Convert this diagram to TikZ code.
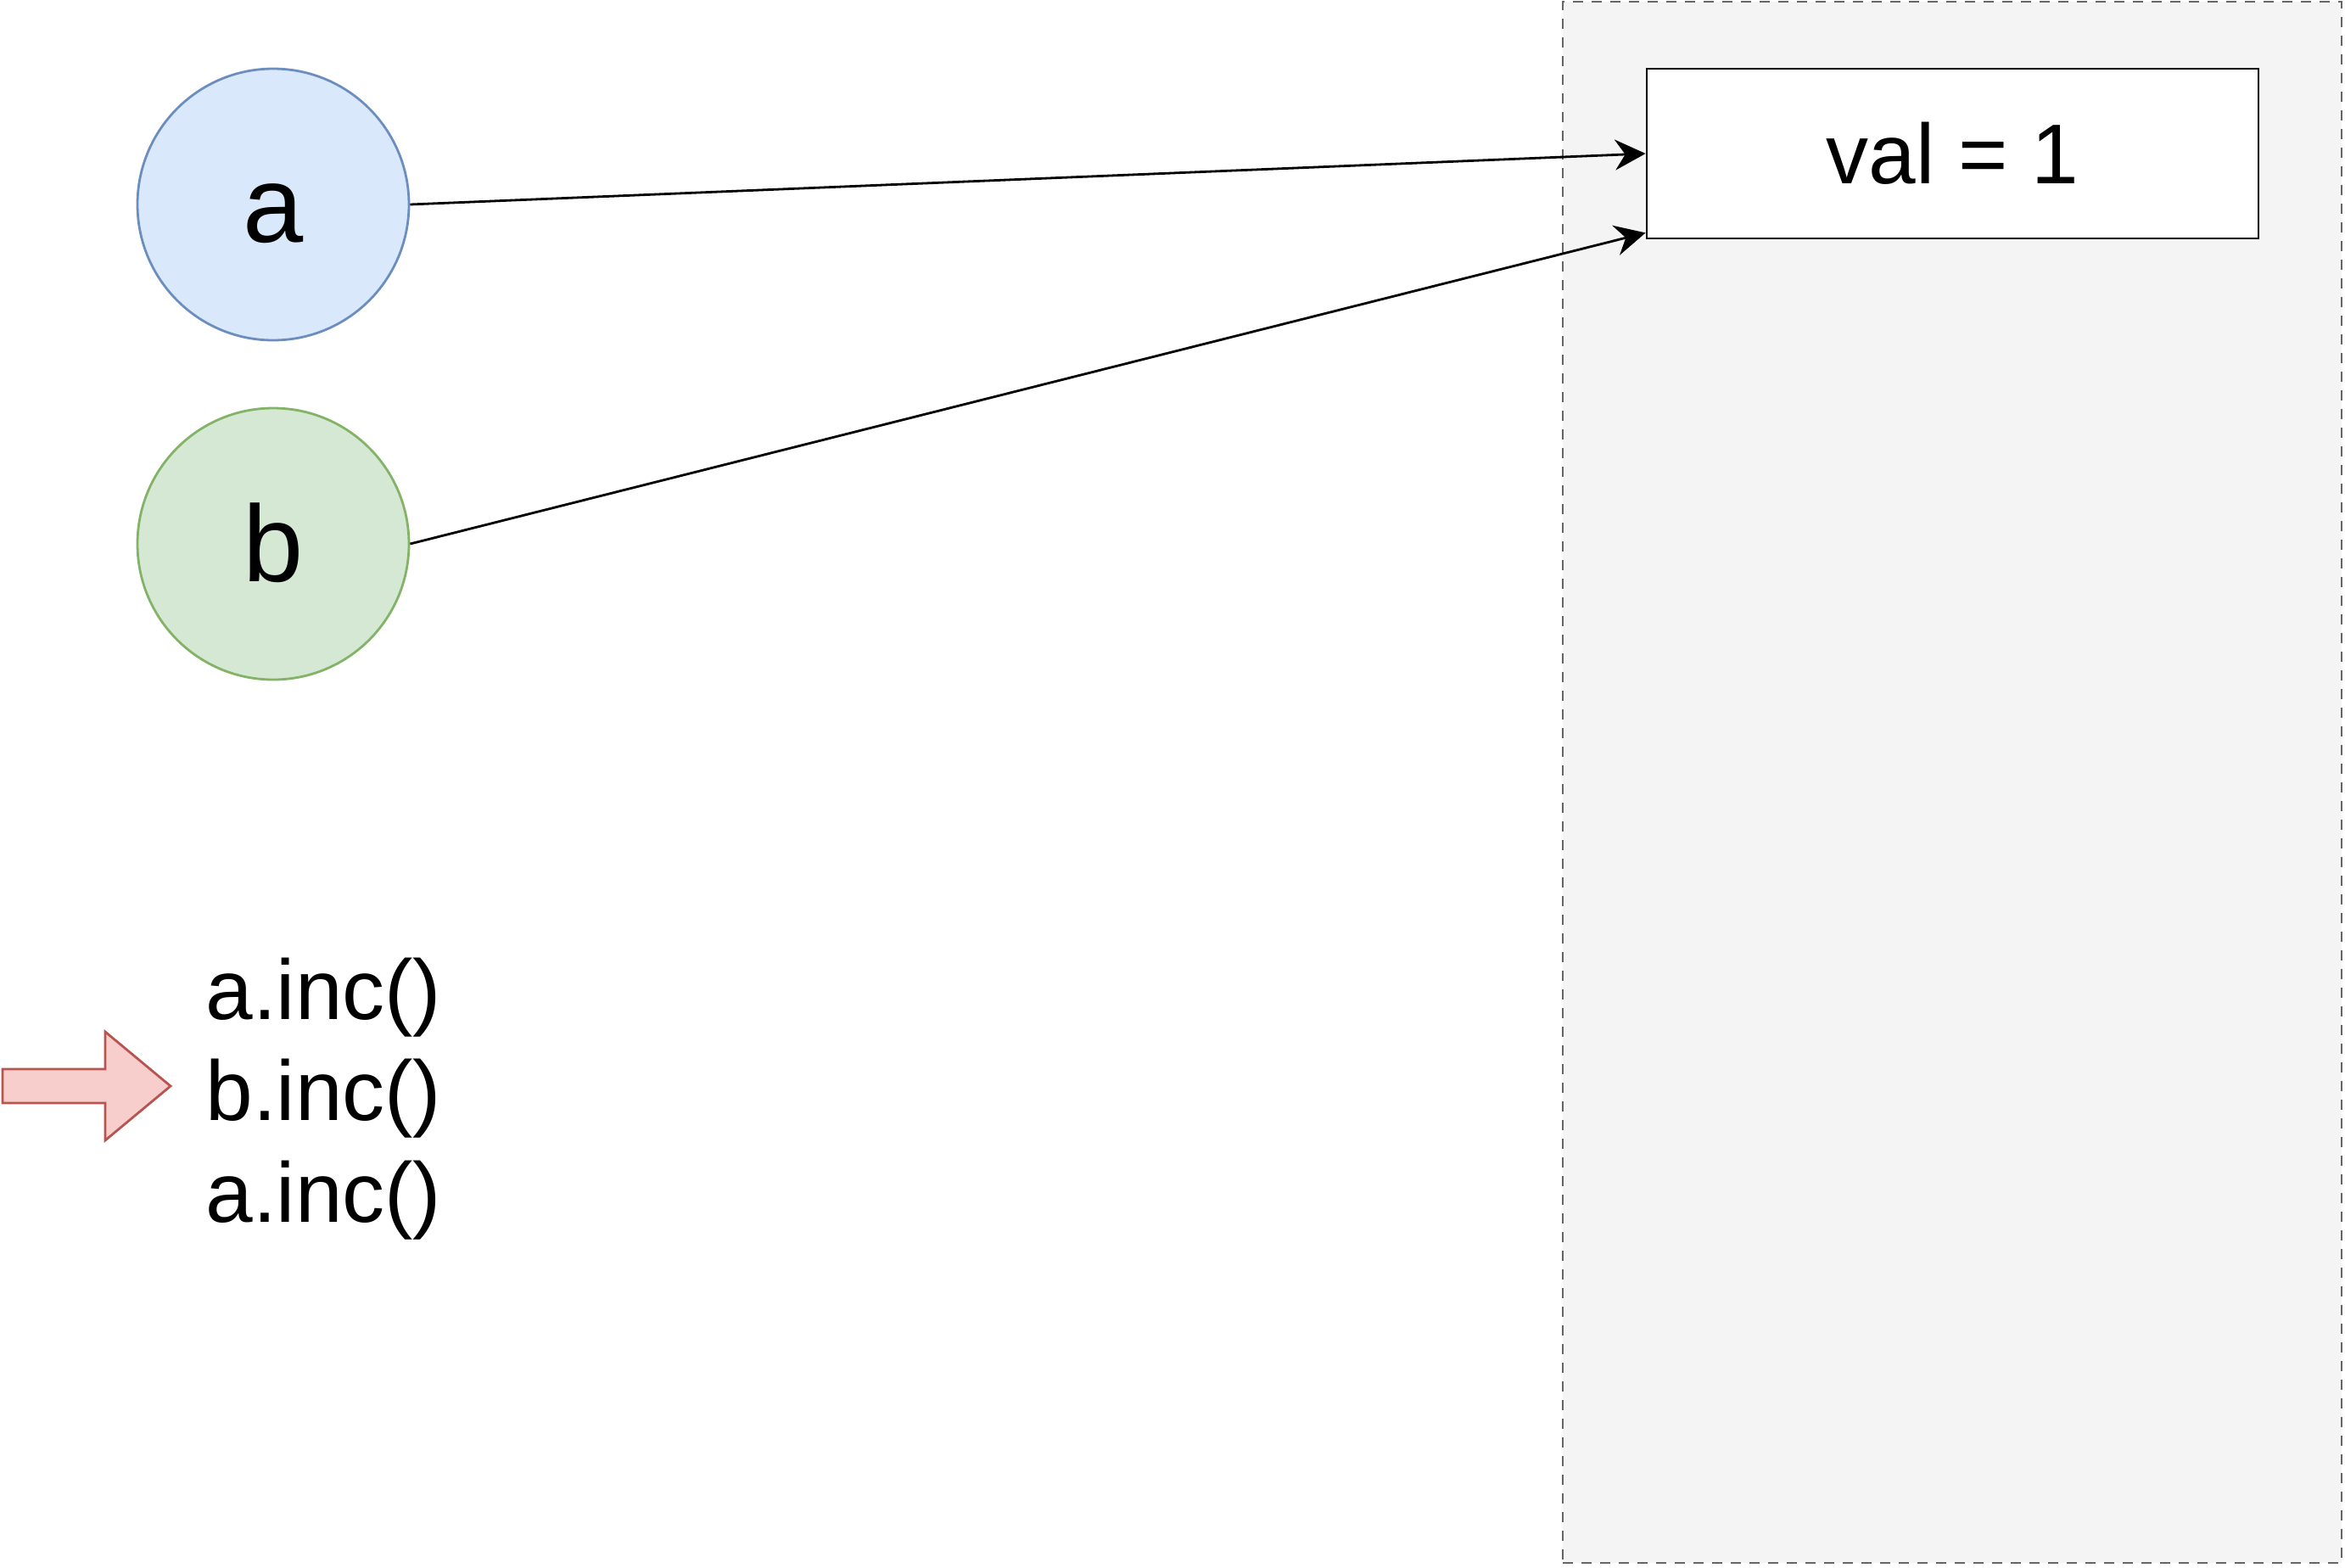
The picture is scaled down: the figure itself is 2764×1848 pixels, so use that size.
\documentclass[tikz,border=0pt]{standalone}
\usepackage{fontspec}
\setmainfont{Liberation Sans}
\usetikzlibrary{arrows.meta}

\definecolor{afill}{HTML}{DAE8FC}
\definecolor{aline}{HTML}{6C8EBF}
\definecolor{bfill}{HTML}{D5E8D4}
\definecolor{bline}{HTML}{82B366}
\definecolor{heapfill}{HTML}{F4F4F4}
\definecolor{heapline}{HTML}{666666}
\definecolor{markfill}{HTML}{F8CECC}
\definecolor{markline}{HTML}{B85450}

\tikzset{
  >={Stealth[length=18pt,width=18pt,inset=6pt]},
  refnode/.style={shape=circle,minimum size=160pt,inner sep=0pt,
    font=\fontsize{64}{77}\selectfont,text height=44pt,text depth=0pt},
  codeline/.style={anchor=base west,inner sep=0pt,font=\fontsize{50}{60}\selectfont}
}

\begin{document}
\begin{tikzpicture}[x=0.5pt,y=-0.5pt,line width=1.4pt]
\useasboundingbox (0,0) rectangle (2764,1848);

% heap area
\node[shape=rectangle,draw=heapline,fill=heapfill,dash pattern=on 6pt off 5pt,
  minimum width=459pt,minimum height=920pt,inner sep=0pt] (heap) at (2301,922) {};
\node[shape=rectangle,draw=black,fill=white,minimum width=360.5pt,minimum height=100pt,
  inner sep=0pt,font=\fontsize{50}{60}\selectfont] (val) at (2301.5,181) {val = 1};

% references
\node[refnode,draw=aline,fill=afill] (a) at (322,241) {a};
\node[refnode,draw=bline,fill=bfill] (b) at (322,641) {b};

\path [->] (a.east) edge (val.west);
\path [->] (b.east) edge ([yshift=4pt]val.south west);

% calls
\node[codeline] (call1) at (241,1201) {a.inc()};
\node[codeline] (call2) at (241,1320) {b.inc()};
\node[codeline] (call3) at (241,1440) {a.inc()};

\draw[draw=markline,fill=markfill] (3,1260) -- (124,1260) -- (124,1216) -- (201,1280)
  -- (124,1344) -- (124,1300) -- (3,1300) -- cycle;

\end{tikzpicture}
\end{document}
